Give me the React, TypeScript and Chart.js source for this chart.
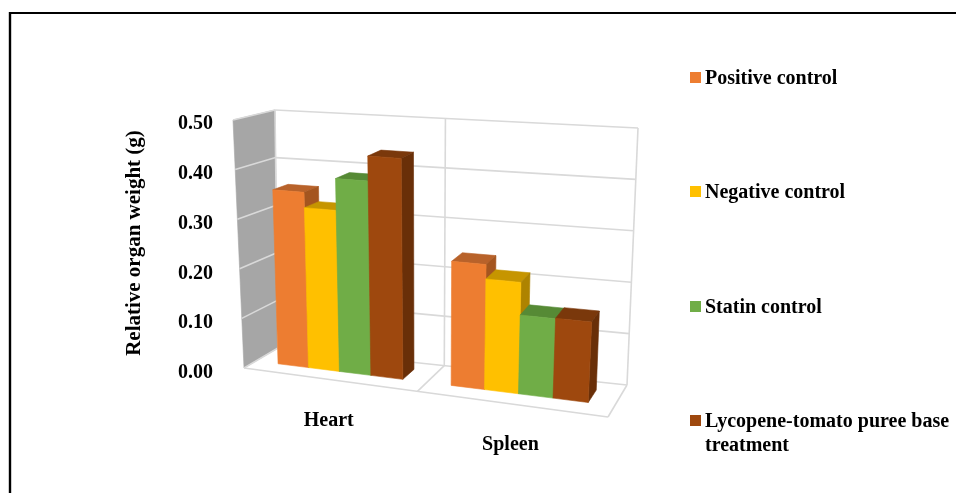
import React, { useEffect, useRef } from "react";
import { Chart, registerables } from "chart.js";

Chart.register(...registerables);

const categories = ["Heart", "Spleen"];
const positiveControl = [0.354, 0.243];
const negativeControl = [0.323, 0.215];
const statinControl = [0.387, 0.152];
const lycopeneTreatment = [0.437, 0.153];
const seriesNames = ["Positive control", "Negative control", "Statin control", "Lycopene-tomato puree base treatment"];
const seriesColors = ["#ED7D31", "#FFC000", "#70AD47", "#9E480E"];
const topColors = ["#B8622A", "#C69500", "#568A35", "#7A380B"];
const sideColors = ["#A4551F", "#AE8300", "#4B7A2E", "#692F08"];
const yAxisTitle = "Relative organ weight (g)";

const FONT = '"Liberation Serif", serif';
const TEXT_FONT = `bold 20px ${FONT}`;

// Screen cage of the 3D view
const CAGE = {
  fbl: [244, 368], fbr: [608, 417], btl: [275, 110], btr: [638, 128],
  bbl: [278, 348], bbr: [627, 385], ftl: [233, 120], ftr: [623, 149],
};
const PERSPECTIVE_BOTTOM = 0.91;
const PERSPECTIVE_TOP = 0.885;
const BAR_FRONT = 0.35;
const BAR_BACK = 0.75;
const LEGEND_Y = [79, 193, 308, 422];

function lerp(a: number[], b: number[], t: number) {
  return [a[0] + (b[0] - a[0]) * t, a[1] + (b[1] - a[1]) * t];
}
function warp(m: number, a: number) {
  return (a * m) / (1 + (a - 1) * m);
}
function project(m: number, v: number, z: number) {
  const bl = lerp(CAGE.fbl, CAGE.bbl, z);
  const br = lerp(CAGE.fbr, CAGE.bbr, z);
  const tl = lerp(CAGE.ftl, CAGE.btl, z);
  const tr = lerp(CAGE.ftr, CAGE.btr, z);
  return lerp(lerp(bl, br, warp(m, PERSPECTIVE_BOTTOM)), lerp(tl, tr, warp(m, PERSPECTIVE_TOP)), v);
}
function poly(ctx: CanvasRenderingContext2D, pts: number[][], fill: string) {
  ctx.beginPath();
  pts.forEach((p, i) => (i ? ctx.lineTo(p[0], p[1]) : ctx.moveTo(p[0], p[1])));
  ctx.closePath();
  ctx.fillStyle = fill;
  ctx.strokeStyle = fill;
  ctx.lineWidth = 0.6;
  ctx.fill();
  ctx.stroke();
}
function line(ctx: CanvasRenderingContext2D, a: number[], b: number[], color: string, w: number) {
  ctx.beginPath();
  ctx.moveTo(a[0], a[1]);
  ctx.lineTo(b[0], b[1]);
  ctx.strokeStyle = color;
  ctx.lineWidth = w;
  ctx.stroke();
}

const view3d = {
  id: "view3d",
  beforeDatasetsDraw(chart: any) {
    const ctx = chart.ctx as CanvasRenderingContext2D;
    const y = chart.scales.y;
    // page frame
    line(ctx, [10, 13], [956, 13], "#000", 2);
    line(ctx, [10, 12], [10, 493], "#000", 2.4);
    // walls
    poly(ctx, [project(0, 0, 0), project(0, 1, 0), project(0, 1, 1), project(0, 0, 1)], "#A6A6A6");
    const grid = "#D9D9D9";
    y.ticks.forEach((t: any) => {
      const v = (y.bottom - y.getPixelForValue(t.value)) / (y.bottom - y.top);
      line(ctx, project(0, v, 0), project(0, v, 1), grid, 1.6);
      line(ctx, project(0, v, 1), project(1, v, 1), grid, 1.6);
    });
    line(ctx, project(0, 0, 1), project(0, 1, 1), grid, 1.6);
    line(ctx, project(1, 0, 1), project(1, 1, 1), grid, 1.6);
    line(ctx, project(0.5, 0, 1), project(0.5, 1, 1), grid, 1.6);
    // floor
    line(ctx, project(0, 0, 0), project(1, 0, 0), grid, 1.6);
    line(ctx, project(1, 0, 0), project(1, 0, 1), grid, 1.6);
    line(ctx, project(0.5, 0, 0), project(0.5, 0, 1), grid, 1.6);
  },
  beforeDatasetDraw() {
    return false; // flat bars are replaced by their projected form below
  },
  afterDatasetsDraw(chart: any) {
    const ctx = chart.ctx as CanvasRenderingContext2D;
    const area = chart.chartArea;
    const toM = (px: number) => (px - area.left) / area.width;
    const toV = (py: number) => (area.bottom - py) / area.height;
    categories.forEach((_, c) => {
      chart.data.datasets.forEach((_d: any, s: number) => {
        const bar = chart.getDatasetMeta(s).data[c];
        const m0 = toM(bar.x - bar.width / 2);
        const m1 = toM(bar.x + bar.width / 2);
        const v0 = toV(bar.base);
        const v1 = toV(bar.y);
        poly(ctx, [project(m0, v1, BAR_FRONT), project(m1, v1, BAR_FRONT), project(m1, v1, BAR_BACK), project(m0, v1, BAR_BACK)], topColors[s]);
        poly(ctx, [project(m1, v0, BAR_FRONT), project(m1, v1, BAR_FRONT), project(m1, v1, BAR_BACK), project(m1, v0, BAR_BACK)], sideColors[s]);
        poly(ctx, [project(m0, v0, BAR_FRONT), project(m1, v0, BAR_FRONT), project(m1, v1, BAR_FRONT), project(m0, v1, BAR_FRONT)], seriesColors[s]);
      });
    });
    // category labels, under the floor's front edge
    const x = chart.scales.x;
    ctx.font = TEXT_FONT;
    ctx.fillStyle = "#000";
    ctx.textAlign = "center";
    ctx.textBaseline = "middle";
    categories.forEach((label, i) => {
      const p = project(toM(x.getPixelForTick(i)), 0, 0);
      ctx.fillText(label, p[0], p[1] + 41);
    });
    // y axis title
    ctx.save();
    ctx.translate(135, 243);
    ctx.rotate(-Math.PI / 2);
    ctx.font = `bold 21px ${FONT}`;
    ctx.fillText(yAxisTitle, 0, 0);
    ctx.restore();
    // legend
    ctx.font = TEXT_FONT;
    ctx.textAlign = "left";
    chart.data.datasets.forEach((d: any, s: number) => {
      ctx.fillStyle = seriesColors[s];
      ctx.fillRect(690, LEGEND_Y[s] - 7, 11, 11);
      ctx.fillStyle = "#000";
      let row = "";
      let yy = LEGEND_Y[s];
      d.label.split(" ").forEach((w: string) => {
        const next = row ? row + " " + w : w;
        if (ctx.measureText(next).width > 248) {
          ctx.fillText(row, 705, yy);
          yy += 24;
          row = w;
        } else row = next;
      });
      ctx.fillText(row, 705, yy);
    });
  },
};

export default function App() {
  const ref = useRef<HTMLCanvasElement>(null);
  useEffect(() => {
    const chart = new Chart(ref.current!, {
      type: "bar",
      data: {
        labels: categories,
        datasets: [positiveControl, negativeControl, statinControl, lycopeneTreatment].map((data, i) => ({
          label: seriesNames[i],
          data,
          backgroundColor: seriesColors[i],
          barPercentage: 1,
          categoryPercentage: 0.73,
        })),
      },
      options: {
        responsive: false,
        animation: false,
        layout: { padding: { left: 174, right: 316, top: 124, bottom: 120 } },
        plugins: { legend: { display: false }, tooltip: { enabled: false }, title: { display: false } },
        scales: {
          x: { display: false },
          y: {
            min: 0,
            max: 0.5,
            border: { display: false },
            grid: { display: false, drawTicks: false },
            ticks: {
              stepSize: 0.1,
              color: "#000",
              padding: 4,
              font: { family: FONT, size: 20, weight: "bold" },
              callback: (v: any) => Number(v).toFixed(2),
            },
          },
        },
      },
      plugins: [view3d],
    } as any);
    return () => chart.destroy();
  }, []);
  return (
    <canvas
      ref={ref}
      width={956}
      height={493}
      style={{ position: "absolute", left: 0, top: 0, display: "block" }}
    />
  );
}
